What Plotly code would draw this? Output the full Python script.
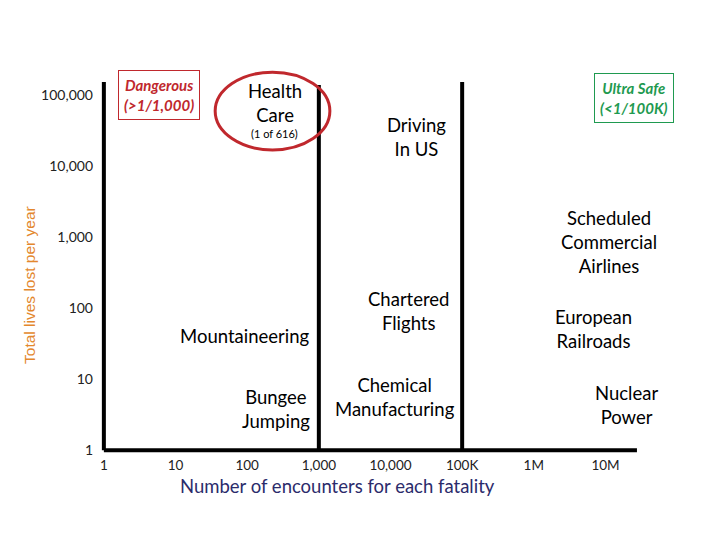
import numpy as np
import plotly.graph_objects as go

# tick marks on both log axes
x_ticks = [1, 10, 100, 1000, 10000, 100000, 1000000, 10000000]
x_tick_labels = ["1", "10", "100", "1,000", "10,000", "100K", "1M", "10M"]
y_ticks = [1, 10, 100, 1000, 10000, 100000]
y_tick_labels = ["1", "10", "100", "1,000", "10,000", "100,000"]

# risk thresholds (encounters per fatality) and how tall their bars go
thresholds = [1000, 100000]
threshold_tops = [138000, 151000]
axis_x_end = 2.75e7
axis_y_end = 151000

# activities: label, encounters for each fatality, total lives lost per year
activity_names = ["Health<br>Care", "Driving<br>In US", "Scheduled<br>Commercial<br>Airlines",
                  "Chartered<br>Flights", "European<br>Railroads", "Mountaineering",
                  "Bungee<br>Jumping", "Chemical<br>Manufacturing", "Nuclear<br>Power"]
activity_x = [244, 22800, 11.3e6, 17600, 6.8e6, 800, 800, 11500, 19.5e6]
activity_y = [77000, 25600, 850, 91, 50, 40, 3.8, 5.6, 4.3]
right_aligned = {"Mountaineering", "Bungee<br>Jumping"}

# zone boxes: text, x, y
zone_texts = ["Dangerous<br>(&gt;1/1,000)", "Ultra Safe<br>(&lt;1/100K)"]
zone_x = [5.9, 25e6]
zone_y = [100000, 90000]
zone_colors = ["#c0282d", "#1f9a50"]

fig = go.Figure()

# axis lines
fig.add_trace(go.Scatter(x=[1, 1], y=[1, axis_y_end], mode="lines",
                         line=dict(color="black", width=4)))
fig.add_trace(go.Scatter(x=[1, axis_x_end], y=[1, 1], mode="lines",
                         line=dict(color="black", width=4)))

# threshold bars
for t, top in zip(thresholds, threshold_tops):
    fig.add_trace(go.Scatter(x=[t, t], y=[1, top], mode="lines",
                             line=dict(color="black", width=4)))

annotations = []
for name, xv, yv in zip(activity_names, activity_x, activity_y):
    annotations.append(dict(
        text=name, x=np.log10(xv), y=np.log10(yv), xref="x", yref="y",
        showarrow=False, xanchor="right" if name in right_aligned else "center",
        font=dict(family="Lato", size=18.5, color="black")
    ))

annotations.append(dict(
    text="(1 of 616)", x=np.log10(244), y=np.log10(29000), xref="x", yref="y",
    showarrow=False, font=dict(family="Lato", size=11, color="black")
))

for txt, xv, yv, col in zip(zone_texts, zone_x, zone_y, zone_colors):
    annotations.append(dict(
        text=txt, x=np.log10(xv), y=np.log10(yv), xref="x", yref="y",
        showarrow=False, bordercolor=col, borderwidth=1, borderpad=5,
        font=dict(family="Lato", size=15, color=col, weight="bold", style="italic")
    ))

# axis titles
annotations.append(dict(
    text="Number of encounters for each fatality", x=0.442, y=-0.083,
    xref="paper", yref="paper", showarrow=False, yanchor="middle",
    font=dict(family="Lato", size=18.5, color="#2b2b6b")
))
annotations.append(dict(
    text="Total lives lost per year", x=-0.1325, y=0.4275, textangle=-90,
    xref="paper", yref="paper", showarrow=False, xanchor="center", yanchor="middle",
    font=dict(family="Liberation Sans", size=15.5, color="#e3872d")
))

fig.update_layout(
    width=720, height=540,
    margin=dict(l=93, r=91, t=52, b=95),
    paper_bgcolor="white", plot_bgcolor="white",
    showlegend=False, hovermode=False,
    annotations=annotations,
    shapes=[dict(type="circle", xref="paper", yref="paper",
                 x0=0.213, x1=0.427, y0=0.771, y1=0.969,
                 line=dict(color="#c0282d", width=3))],
    xaxis=dict(
        type="log", range=[-0.04, 7.44], tickvals=x_ticks, ticktext=x_tick_labels,
        showgrid=False, zeroline=False, showline=False, ticks="",
        ticklabelstandoff=2, automargin=False,
        tickfont=dict(family="Lato", size=13.5, color="#222"),
    ),
    yaxis=dict(
        type="log", range=[-0.04, 5.49], tickvals=y_ticks, ticktext=y_tick_labels,
        showgrid=False, zeroline=False, showline=False, ticks="",
        ticklabelstandoff=7, automargin=False,
        tickfont=dict(family="Lato", size=14, color="#222"),
    ),
)

fig.write_html("out.html")
